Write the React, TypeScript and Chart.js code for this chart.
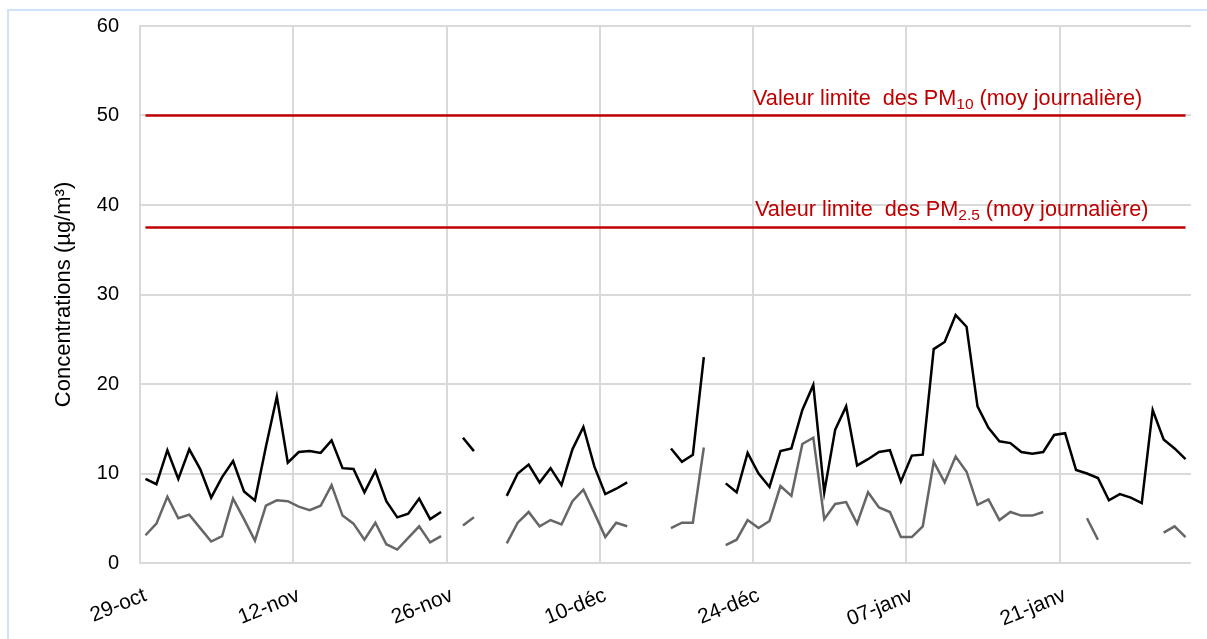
import { useEffect, useRef } from 'react';
import { Chart, registerables } from 'chart.js';

Chart.register(...registerables);

const DATES = [
  '29-oct', '30-oct', '31-oct',
  '01-nov', '02-nov', '03-nov', '04-nov', '05-nov', '06-nov', '07-nov', '08-nov', '09-nov', '10-nov',
  '11-nov', '12-nov', '13-nov', '14-nov', '15-nov', '16-nov', '17-nov', '18-nov', '19-nov', '20-nov',
  '21-nov', '22-nov', '23-nov', '24-nov', '25-nov', '26-nov', '27-nov', '28-nov', '29-nov', '30-nov',
  '01-déc', '02-déc', '03-déc', '04-déc', '05-déc', '06-déc', '07-déc', '08-déc', '09-déc', '10-déc',
  '11-déc', '12-déc', '13-déc', '14-déc', '15-déc', '16-déc', '17-déc', '18-déc', '19-déc', '20-déc',
  '21-déc', '22-déc', '23-déc', '24-déc', '25-déc', '26-déc', '27-déc', '28-déc', '29-déc', '30-déc',
  '31-déc',
  '01-janv', '02-janv', '03-janv', '04-janv', '05-janv', '06-janv', '07-janv', '08-janv', '09-janv', '10-janv',
  '11-janv', '12-janv', '13-janv', '14-janv', '15-janv', '16-janv', '17-janv', '18-janv', '19-janv', '20-janv',
  '21-janv', '22-janv', '23-janv', '24-janv', '25-janv', '26-janv', '27-janv', '28-janv', '29-janv', '30-janv',
  '31-janv',
  '01-févr',
];

const TICK_LABELS = ['29-oct', '12-nov', '26-nov', '10-déc', '24-déc', '07-janv', '21-janv'];

const PM10: (number | null)[] = [
  9.4, 8.8, 12.6, 9.4, 12.7, 10.5, 7.3, 9.6, 11.4, 8.0,
  7.0, 13.0, 18.6, 11.2, 12.4, 12.5, 12.3, 13.7, 10.6, 10.5,
  7.9, 10.3, 6.9, 5.1, 5.5, 7.2, 4.9, 5.7, null, 14.0,
  12.5, null, null, 7.5, 10.0, 11.0, 9.0, 10.6, 8.7, 12.7,
  15.2, 10.8, 7.7, 8.3, 9.0, null, null, null, 12.8, 11.3,
  12.1, 23.0, null, 8.9, 7.9, 12.3, 10.0, 8.5, 12.5, 12.8,
  17.1, 19.9, 7.9, 14.9, 17.5, 10.9, 11.6, 12.4, 12.6, 9.1,
  12.0, 12.1, 23.9, 24.7, 27.7, 26.4, 17.5, 15.1, 13.6, 13.4,
  12.4, 12.2, 12.4, 14.3, 14.5, 10.4, 10.0, 9.5, 7.0, 7.7,
  7.3, 6.7, 17.1, 13.8, 12.8, 11.6,
];

const PM25: (number | null)[] = [
  3.1, 4.4, 7.4, 5.0, 5.4, 3.9, 2.4, 3.0, 7.2, 4.9,
  2.5, 6.4, 7.0, 6.9, 6.3, 5.9, 6.4, 8.7, 5.3, 4.4,
  2.6, 4.5, 2.1, 1.5, 2.8, 4.1, 2.3, 3.0, null, 4.2,
  5.1, null, null, 2.2, 4.5, 5.7, 4.1, 4.8, 4.3, 6.9,
  8.2, 5.6, 2.9, 4.5, 4.1, null, null, null, 3.9, 4.5,
  4.5, 12.9, null, 2.0, 2.6, 4.8, 3.9, 4.7, 8.6, 7.5,
  13.3, 14.0, 4.9, 6.6, 6.8, 4.4, 7.9, 6.2, 5.7, 2.9,
  2.9, 4.1, 11.3, 9.0, 11.9, 10.2, 6.5, 7.1, 4.8, 5.7,
  5.3, 5.3, 5.7, null, null, null, 5.0, 2.6, null, null,
  null, null, null, 3.4, 4.1, 2.9,
];

const LIMIT_PM10 = 50;
const LIMIT_PM25 = 37.5;
const LIMIT_LABELS = [
  { value: LIMIT_PM10, sub: '10' },
  { value: LIMIT_PM25, sub: '2.5' },
];

const Y_MIN = 0;
const Y_MAX = 60;
const Y_STEP = 10;

const FONT = '"Liberation Sans", Arial, Helvetica, sans-serif';
const RED = '#c00000';
const GRID = '#d9d9d9';

const limitLabelPlugin = {
  id: 'limitLabels',
  afterDatasetsDraw(chart: any) {
    const { ctx, chartArea } = chart;
    const y = chart.scales.y;
    ctx.save();
    ctx.fillStyle = RED;
    ctx.textBaseline = 'alphabetic';
    ctx.textAlign = 'left';
    LIMIT_LABELS.forEach((it, k) => {
      const yy = y.getPixelForValue(it.value) - 11;
      let x = chartArea.left + 613 + k * 2;
      ctx.font = `21.7px ${FONT}`;
      const a = 'Valeur limite  des PM';
      ctx.fillText(a, x, yy);
      x += ctx.measureText(a).width;
      ctx.font = `15.5px ${FONT}`;
      ctx.fillText(it.sub, x, yy + 4);
      x += ctx.measureText(it.sub).width;
      ctx.font = `21.7px ${FONT}`;
      ctx.fillText(' (moy journalière)', x, yy);
    });
    ctx.restore();
  },
};

export default function App() {
  const ref = useRef<HTMLCanvasElement | null>(null);

  useEffect(() => {
    if (!ref.current) return;
    const chart = new Chart(ref.current, {
      type: 'line',
      data: {
        labels: DATES,
        datasets: [
          {
            label: 'PM10',
            data: PM10,
            borderColor: '#000000',
            borderWidth: 2.5,
            pointRadius: 0,
            spanGaps: false,
            order: 2,
          },
          {
            label: 'PM2.5',
            data: PM25,
            borderColor: '#666666',
            borderWidth: 2.5,
            pointRadius: 0,
            spanGaps: false,
            order: 3,
          },
          {
            label: 'Limite PM10',
            data: [
              { x: DATES[0], y: LIMIT_PM10 },
              { x: DATES[DATES.length - 1], y: LIMIT_PM10 },
            ],
            borderColor: RED,
            borderWidth: 2.5,
            pointRadius: 0,
            order: 1,
          },
          {
            label: 'Limite PM2.5',
            data: [
              { x: DATES[0], y: LIMIT_PM25 },
              { x: DATES[DATES.length - 1], y: LIMIT_PM25 },
            ],
            borderColor: RED,
            borderWidth: 2.5,
            pointRadius: 0,
            order: 1,
          },
        ] as any,
      },
      options: {
        responsive: false,
        animation: false,
        devicePixelRatio: 1,
        layout: { padding: { left: 48, top: 26, right: 16, bottom: 0 } },
        plugins: {
          legend: { display: false },
          tooltip: { enabled: false },
        },
        scales: {
          x: {
            type: 'category',
            offset: true,
            grid: {
              offset: true,
              drawTicks: false,
              lineWidth: 2,
              color: (c: any) =>
                c.tick && TICK_LABELS.includes(DATES[c.index]) ? GRID : 'rgba(0,0,0,0)',
            },
            border: { display: false },
            ticks: {
              autoSkip: false,
              minRotation: 22,
              maxRotation: 22,
              padding: 20,
              color: '#000000',
              font: { family: FONT, size: 21 },
              callback: (_v: any, i: number) =>
                TICK_LABELS.includes(DATES[i]) ? DATES[i] : '',
            },
            afterFit: (s: any) => {
              s.height = 639 - 563;
              s.paddingLeft = 0;
              s.paddingRight = 0;
            },
          },
          y: {
            min: Y_MIN,
            max: Y_MAX,
            grid: { color: GRID, lineWidth: 2, drawTicks: false },
            border: { display: true, color: GRID, width: 2 },
            ticks: {
              stepSize: Y_STEP,
              padding: 21,
              color: '#000000',
              font: { family: FONT, size: 20 },
            },
            title: {
              display: true,
              text: 'Concentrations (µg/m³)',
              color: '#000000',
              font: { family: FONT, size: 22 },
              padding: { top: 3, bottom: 0 },
            },
            afterFit: (s: any) => {
              s.width = 140 - 48;
              s.paddingTop = 8;
              s.paddingBottom = 0;
            },
          },
        },
      },
      plugins: [limitLabelPlugin],
    });
    return () => chart.destroy();
  }, []);

  return (
    <div style={{ position: 'fixed', left: 0, top: 0, width: 1207, height: 639, overflow: 'hidden', background: '#ffffff' }}>
      <div
        style={{
          position: 'absolute',
          left: 7,
          top: 9,
          width: 1300,
          height: 700,
          border: '2px solid #cfe3f8',
          boxSizing: 'border-box',
        }}
      />
      <canvas
        ref={ref}
        width={1207}
        height={639}
        style={{ position: 'absolute', left: 0, top: 0, width: 1207, height: 639 }}
      />
    </div>
  );
}
